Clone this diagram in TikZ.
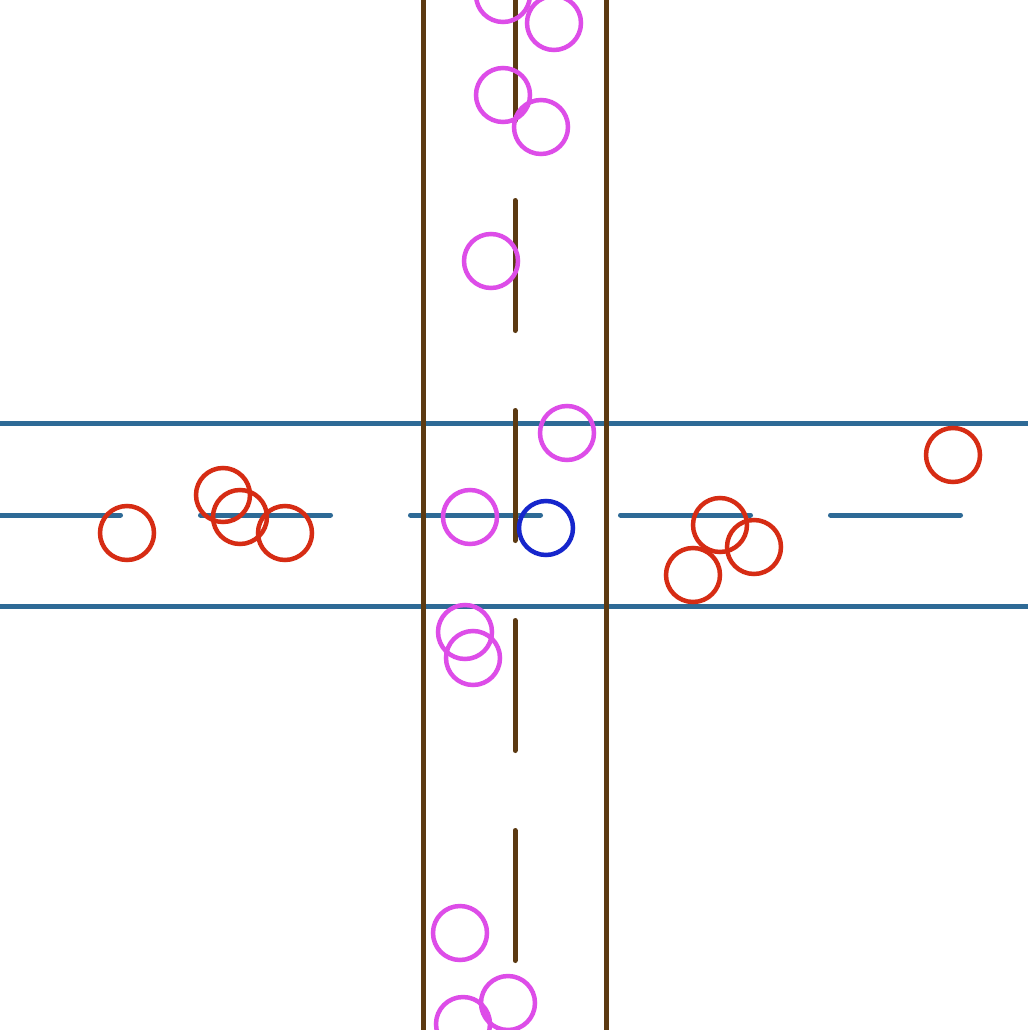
\documentclass[tikz,border=0pt]{standalone}
\definecolor{roadblue}{RGB}{46,106,150}
\definecolor{roadbrown}{RGB}{92,58,18}
\definecolor{pedmag}{RGB}{221,77,232}
\definecolor{carred}{RGB}{214,44,20}
\definecolor{egoblue}{RGB}{22,38,204}
\tikzset{
  hline/.style={draw=roadblue,line width=5pt},
  vline/.style={draw=roadbrown,line width=5pt},
  hdash/.style={draw=roadblue,line width=5pt,line cap=round},
  vdash/.style={draw=roadbrown,line width=5pt,line cap=round},
  pedc/.style={draw=pedmag,line width=4.5pt},
  carc/.style={draw=carred,line width=4.5pt},
  egoc/.style={draw=egoblue,line width=4.5pt}
}
\begin{document}
\begin{tikzpicture}[x=1pt,y=-1pt]
\useasboundingbox (0,0) rectangle (1028,1030);
\fill[white] (0,0) rectangle (1028,1030);
\begin{scope}
\clip (0,0) rectangle (1028,1030);
% horizontal road
\draw[hline] (0,423) -- (1028,423);
\draw[hline] (0,606) -- (1028,606);
\foreach \a in {-12,198,408,618,828}
  \draw[hdash] (\a+2.5,515) -- (\a+132.5,515);
% vertical road
\draw[vline] (423,0) -- (423,1030);
\draw[vline] (606,0) -- (606,1030);
\foreach \a in {-12,198,408,618,828}
  \draw[vdash] (515,\a+2.5) -- (515,\a+132.5);
% pedestrians / magenta
\foreach \p in {(503,-5),(554,23),(503,95),(541,127),(491,261),(567,433),(470,517),(465,632),(473,658),(460,933),(508,1003),(463,1024)}
  \draw[pedc] \p circle (27);
% red
\foreach \p in {(127,533),(223,495),(240,517),(285,533),(953,455),(720,525),(754,547),(693,575)}
  \draw[carc] \p circle (27);
% ego
\draw[egoc] (546,528) circle (27);
\end{scope}
\end{tikzpicture}
\end{document}
